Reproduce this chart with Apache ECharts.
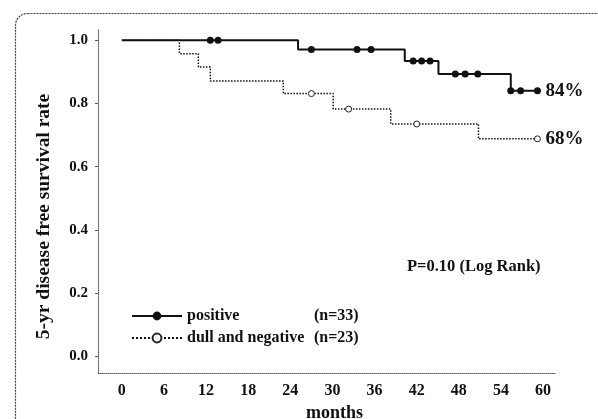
<!DOCTYPE html>
<html>
<head>
<meta charset="utf-8">
<script src="https://cdn.jsdelivr.net/npm/echarts@6/dist/echarts.min.js"></script>
<style>
  html, body { margin: 0; padding: 0; background: #fff; }
  #chart { width: 598px; height: 419px; }
</style>
</head>
<body>
<div id="chart"></div>
<script>
// month ticks and survival ticks
const monthTicks = [0, 6, 12, 18, 24, 30, 36, 42, 48, 54, 60];
const rateTicks = [0, 0.2, 0.4, 0.6, 0.8, 1.0];

// [month, survival, censored(1) / event(0)]
const positivePoints = [
  [0, 1.0, 0], [12.6, 1.0, 1], [13.7, 1.0, 1],
  [25.1, 0.970, 0], [27.0, 0.970, 1], [33.5, 0.970, 1], [35.5, 0.970, 1],
  [40.3, 0.934, 0], [41.5, 0.934, 1], [42.7, 0.934, 1], [43.9, 0.934, 1],
  [45.1, 0.893, 0], [47.5, 0.893, 1], [48.9, 0.893, 1], [50.7, 0.893, 1],
  [55.4, 0.840, 1], [56.8, 0.840, 1], [59.2, 0.840, 1]
];
const negativePoints = [
  [0, 1.0, 0], [8.2, 0.957, 0], [10.9, 0.915, 0], [12.6, 0.871, 0],
  [23.0, 0.831, 0], [27.0, 0.831, 1], [30.1, 0.782, 0], [32.3, 0.782, 1],
  [38.3, 0.735, 0], [42.0, 0.735, 1], [50.8, 0.688, 0], [59.2, 0.688, 1]
];
const groupNames = ['positive', 'dull and negative'];
const groupN = ['(n=33)', '(n=23)'];
const endTexts = ['84%', '68%'];

const font = 'Liberation Serif';
const chart = echarts.init(document.getElementById('chart'));

const mkSeries = (i, pts, solid) => ({
  name: groupNames[i],
  type: 'line',
  step: 'end',
  data: pts,
  symbol: 'circle',
  symbolSize: (v) => v[2] ? (solid ? 7 : 6) : 0,
  showSymbol: true,
  lineStyle: { color: '#111', width: solid ? 2 : 1.5, type: solid ? 'solid' : 'dotted' },
  itemStyle: solid ? { color: '#111' } : { color: '#fff', borderColor: '#222', borderWidth: 1 },
  endLabel: {
    show: true, formatter: endTexts[i], distance: 8,
    fontFamily: font, fontWeight: 'bold', fontSize: 19, color: '#111'
  },
  emphasis: { disabled: true },
  animation: false
});

chart.setOption({
  animation: false,
  grid: { left: 98, right: 43, top: 30, bottom: 46, outerBoundsMode: 'none', containLabel: false },
  xAxis: {
    type: 'value', min: -3.4, max: 61.7,
    name: 'months', nameLocation: 'middle', nameGap: 29,
    nameTextStyle: { fontFamily: font, fontWeight: 'bold', fontSize: 18, color: '#111', padding: [0, 0, 0, 16] },
    axisLine: { show: true, onZero: false, lineStyle: { color: '#555', type: 'dotted', width: 1 } },
    axisTick: { show: false },
    splitLine: { show: false },
    axisLabel: {
      customValues: monthTicks, margin: 10,
      fontFamily: font, fontWeight: 'bold', fontSize: 16, color: '#111'
    }
  },
  yAxis: {
    type: 'value', min: -0.052, max: 1.032,
    name: '5-yr disease free survival rate', nameLocation: 'middle', nameGap: 44,
    nameRotate: 90,
    nameTextStyle: { fontFamily: font, fontWeight: 'bold', fontSize: 19.5, color: '#111', padding: [0, 30, 0, 0] },
    axisLine: { show: true, onZero: false, lineStyle: { color: '#555', type: 'dotted', width: 1 } },
    axisTick: { show: true, customValues: rateTicks, length: 3, lineStyle: { color: '#555' } },
    splitLine: { show: false },
    axisLabel: {
      customValues: rateTicks, margin: 10,
      formatter: (v) => v.toFixed(1),
      fontFamily: font, fontWeight: 'bold', fontSize: 15, color: '#111'
    }
  },
  legend: {
    orient: 'vertical', left: 126, top: 303, itemGap: 6,
    itemWidth: 50, itemHeight: 11,
    selectedMode: false,
    data: groupNames,
    formatter: (name) => '{a|' + name + '}{b|' + groupN[groupNames.indexOf(name)] + '}',
    textStyle: {
      fontFamily: font, fontWeight: 'bold', fontSize: 16, color: '#111',
      rich: {
        a: { width: 127, fontFamily: font, fontWeight: 'bold', fontSize: 16, color: '#111' },
        b: { fontFamily: font, fontWeight: 'bold', fontSize: 16, color: '#111' }
      }
    }
  },
  graphic: [
    {
      type: 'rect', left: 13, top: 11, silent: true,
      shape: { width: 640, height: 460, r: 12 },
      style: { fill: 'none', stroke: '#444', lineWidth: 1.2, lineDash: [2, 1] }
    },
    {
      type: 'text', left: 407, top: 258,
      style: { text: 'P=0.10 (Log Rank)', font: 'bold 16.5px "Liberation Serif"', fill: '#111' }
    }
  ],
  series: [mkSeries(0, positivePoints, true), mkSeries(1, negativePoints, false)]
});
</script>
</body>
</html>
